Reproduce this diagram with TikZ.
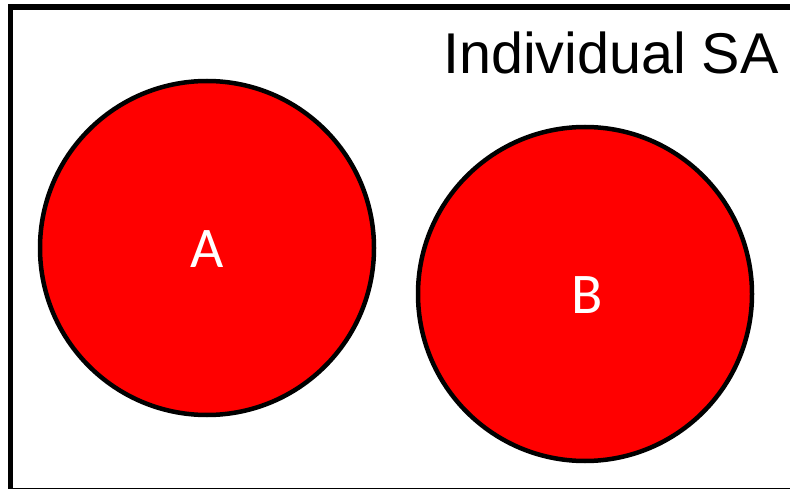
\documentclass[tikz,border=0pt]{standalone}
\usepackage{fontspec}
\setmainfont{Liberation Sans}
\newfontfamily\labelfont{Carlito}
\begin{document}
\begin{tikzpicture}[x=1pt,y=-1pt,
  circ/.style={draw=black,line width=4.5pt,fill={rgb,255:red,255;green,0;blue,0}},
  lbl/.style={text=white,font=\labelfont\fontsize{57.5}{60}\selectfont,inner sep=0pt,anchor=center},
  frame/.style={draw=black,line width=5.5pt}]
\useasboundingbox (0,0) rectangle (790,489);
\begin{scope}
\clip (0,0) rectangle (790,489);
\draw[frame] (10.3,7.2) rectangle (805,490.5);
\end{scope}
\node[anchor=base east,inner sep=0pt,font=\fontsize{57.5}{60}\selectfont] (title) at (779,73.5) {Individual SA};
\node[circ,circle,minimum size=334pt,inner sep=0pt] (A) at (207,248) {};
\node[circ,circle,minimum size=334pt,inner sep=0pt] (B) at (585,294) {};
\node[lbl] (la) at (207.5,249.5) {A};
\node[lbl] (lb) at (587,295.5) {B};
\end{tikzpicture}
\end{document}
